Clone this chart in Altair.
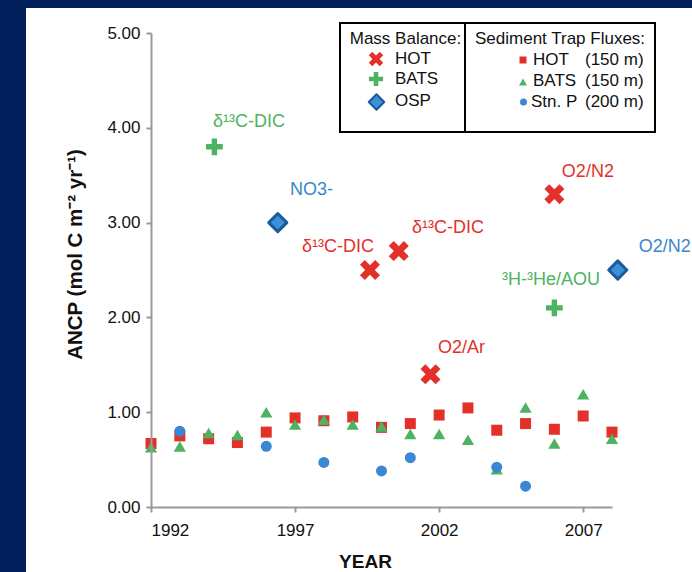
import altair as alt
import pandas as pd

# ---------------- data ----------------
trap_years = list(range(1992, 2009))
hot_trap = [0.67, 0.75, 0.72, 0.68, 0.79, 0.94, 0.91, 0.95, 0.84, 0.88,
            0.97, 1.045, 0.81, 0.88, 0.82, 0.96, 0.79]
bats_trap = [0.63, 0.64, 0.78, 0.76, 1.00, 0.87, 0.92, 0.87, 0.85, 0.77,
             0.77, 0.71, 0.40, 1.05, 0.67, 1.19, 0.72]
stnp_years = [1993, 1996, 1998, 2000, 2001, 2004, 2005]
stnp_trap = [0.80, 0.64, 0.47, 0.38, 0.52, 0.42, 0.22]

hot_mb_years = [1999.6, 2000.6, 2001.7, 2006.0]
hot_mb = [2.5, 2.7, 1.4, 3.3]
bats_mb_years = [1994.2, 2006.0]
bats_mb = [3.8, 2.1]
osp_mb_years = [1996.4, 2008.2]
osp_mb = [3.0, 2.5]

label_text = ["δ¹³C-DIC", "NO3-", "δ¹³C-DIC", "δ¹³C-DIC", "O2/N2", "O2/N2",
              "³H-³He/AOU", "O2/Ar"]
label_years = [1994.15, 1996.82, 1997.24, 2001.06, 2006.26, 2008.93, 2004.18, 2001.96]
label_values = [4.06, 3.34, 2.74, 2.94, 3.53, 2.74, 2.39, 1.68]
label_series = ["BATS", "OSP", "HOT", "HOT", "HOT", "OSP", "BATS", "HOT"]

x_ticks = [1992, 1997, 2002, 2007]
y_ticks = [0, 1, 2, 3, 4, 5]

# ---------------- styles ----------------
NAVY = "#001F5B"
RED = "#E3302A"
GREEN = "#4DB360"
BLUE = "#3A88D2"
DBLUE = "#1C5B99"
FONT = "Liberation Sans"
series_color = {"HOT": RED, "BATS": GREEN, "OSP": "#3A86CC"}

PLUS = "M-0.32,-1H0.32V-0.32H1V0.32H0.32V1H-0.32V0.32H-1V-0.32H-0.32Z"

L, T = 151, 33          # plot origin in page pixels
W, H = 461, 474

x_scale = alt.Scale(domain=[1992, 2008], nice=False, zero=False)
y_scale = alt.Scale(domain=[0, 5], nice=False, zero=False)

common_axis = dict(grid=False, domainColor="#999999", domainWidth=2,
                   tickColor="#999999", tickWidth=2, tickSize=5,
                   labelFont=FONT, labelFontSize=17, labelColor="#111111",
                   titleFont=FONT, titleColor="#111111", zindex=1)
x_axis = alt.Axis(values=x_ticks, format="d", title="YEAR", labelPadding=10,
                  titleFontSize=19, titleFontWeight="bold",
                  titleX=214, titleY=60, titleAlign="center",
                  titleBaseline="alphabetic", **common_axis)
y_axis = alt.Axis(values=y_ticks, format=".2f",
                  title="ANCP (mol C m⁻² yr⁻¹)", labelPadding=6,
                  titleFontSize=20.5, titleFontWeight="bold", titleAngle=270,
                  titleX=-76, titleY=221, titleAlign="center",
                  titleBaseline="middle", **common_axis)

one = pd.DataFrame({"a": [0]})


def pts(years, values, **mk):
    df = pd.DataFrame({"year": years, "value": values})
    return alt.Chart(df).mark_point(filled=True, opacity=1, **mk).encode(
        x=alt.X("year:Q", scale=x_scale, axis=x_axis),
        y=alt.Y("value:Q", scale=y_scale, axis=y_axis),
    )


def vtext(txt, px, py, align="left", size=17, weight="normal", color="#111111"):
    return alt.Chart(one).mark_text(
        text=txt, align=align, baseline="middle", font=FONT, fontSize=size,
        fontWeight=weight, color=color
    ).encode(x=alt.value(px - L), y=alt.value(py - T))


def vsym(px, py, **mk):
    return alt.Chart(one).mark_point(filled=True, opacity=1, **mk).encode(
        x=alt.value(px - L), y=alt.value(py - T))


def vbox(x1, x2, y1, y2):
    return alt.Chart(one).mark_rect(fill="white", stroke="black", strokeWidth=2).encode(
        x=alt.value(x1 - L), x2=alt.value(x2 - L),
        y=alt.value(y1 - T), y2=alt.value(y2 - T))


# white panel on navy background
panel = alt.Chart(one).mark_rect(fill="white").encode(
    x=alt.value(26 - L), x2=alt.value(692 - L),
    y=alt.value(8 - T), y2=alt.value(572 - T))

layers = [panel, vbox(340, 465, 23, 132), vbox(465, 655, 23, 132)]

# sediment trap fluxes
layers.append(pts(trap_years, hot_trap, shape="square", size=121, color=RED))
layers.append(pts(trap_years, bats_trap, shape="triangle-up", size=150, color=GREEN))
layers.append(pts(stnp_years, stnp_trap, shape="circle", size=121, color=BLUE))

# mass balance
layers.append(pts(hot_mb_years, hot_mb, shape=PLUS, angle=45, size=460, color=RED))
layers.append(pts(bats_mb_years, bats_mb, shape=PLUS, size=280, color=GREEN))
layers.append(pts(osp_mb_years, osp_mb, shape="diamond", size=330, fill="#3D8FD8",
                  stroke=DBLUE, strokeWidth=3, strokeJoin="round"))

# annotations
ann = pd.DataFrame({
    "label": label_text, "year": label_years, "value": label_values,
    "col": [series_color[s] for s in label_series],
})
layers.append(alt.Chart(ann).mark_text(
    align="left", baseline="middle", font=FONT, fontSize=18
).encode(
    x=alt.X("year:Q", scale=x_scale, axis=x_axis),
    y=alt.Y("value:Q", scale=y_scale, axis=y_axis),
    text="label:N",
    color=alt.Color("col:N", scale=None),
))

# legend: mass balance
layers += [
    vtext("Mass Balance:", 405.5, 39, align="center"),
    vsym(376, 59, shape=PLUS, angle=45, size=240, color=RED),
    vtext("HOT", 395, 59),
    vsym(376, 79, shape=PLUS, size=200, color=GREEN),
    vtext("BATS", 395, 79),
    vsym(376.5, 102, shape="diamond", size=240, fill="#3D8FD8", stroke=DBLUE,
         strokeWidth=2, strokeJoin="round"),
    vtext("OSP", 395, 101),
]
# legend: sediment traps
layers += [
    vtext("Sediment Trap Fluxes:", 475, 39),
    vsym(523, 60, shape="square", size=49, color=RED),
    vtext("HOT", 533, 60), vtext("(150 m)", 585, 60),
    vsym(523, 82, shape="triangle-up", size=64, color=GREEN),
    vtext("BATS", 533, 81), vtext("(150 m)", 585, 81),
    vsym(523.5, 102, shape="circle", size=49, color=BLUE),
    vtext("Stn. P", 531, 102), vtext("(200 m)", 585, 102),
]

chart = alt.layer(*layers).properties(
    width=W, height=H,
    autosize=alt.AutoSizeParams(type="none"),
    padding={"left": L, "top": T, "right": 692 - L - W, "bottom": 572 - T - H},
    background=NAVY,
).configure_view(stroke=None)

chart.save("out.html", embed_options={"renderer": "svg", "actions": False})
